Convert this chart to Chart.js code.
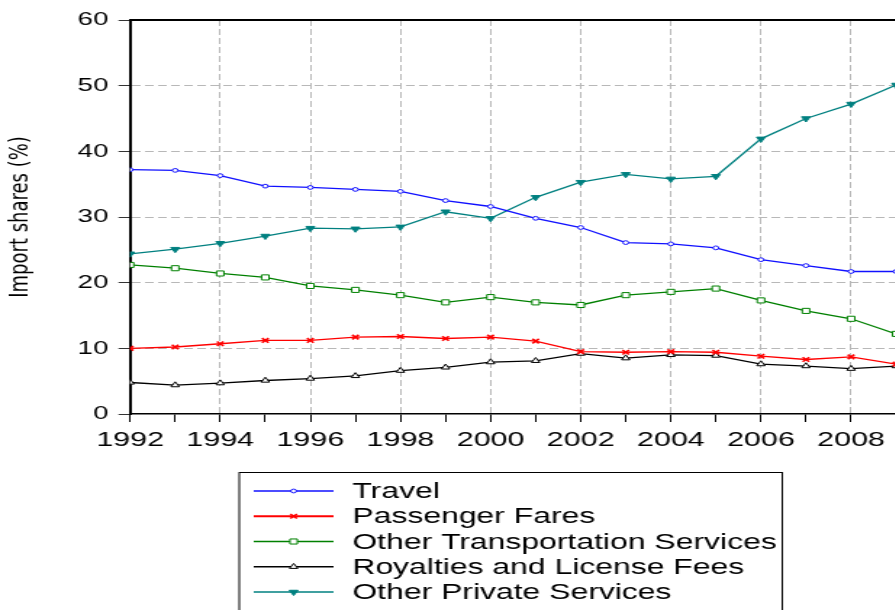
<!DOCTYPE html>
<html>
<head>
<meta charset="utf-8">
<style>
html, body { margin: 0; padding: 0; background: #fff; overflow: hidden; }
#wrap { width: 624px; height: 610px; transform: scaleX(1.45); transform-origin: 0 0; }
</style>
<script src="https://cdn.jsdelivr.net/npm/chart.js@4.4.1/dist/chart.umd.min.js"></script>
</head>
<body>
<div id="wrap"><canvas id="myChart" width="624" height="610" style="width:624px;height:610px"></canvas></div>
<script>
let years = [1992, 1993, 1994, 1995, 1996, 1997, 1998, 1999, 2000, 2001, 2002, 2003, 2004, 2005, 2006, 2007, 2008, 2009];
let travel = [37.2, 37.1, 36.3, 34.7, 34.5, 34.2, 33.9, 32.5, 31.6, 29.8, 28.4, 26.1, 25.9, 25.3, 23.5, 22.6, 21.7, 21.7];
let passengerFares = [10.0, 10.2, 10.7, 11.2, 11.2, 11.7, 11.8, 11.5, 11.7, 11.1, 9.5, 9.4, 9.5, 9.4, 8.8, 8.3, 8.7, 7.6];
let otherTransport = [22.7, 22.2, 21.4, 20.8, 19.5, 18.9, 18.1, 17.0, 17.8, 17.0, 16.6, 18.1, 18.6, 19.1, 17.3, 15.7, 14.5, 12.2];
let royalties = [4.8, 4.4, 4.7, 5.1, 5.4, 5.8, 6.6, 7.1, 7.9, 8.1, 9.2, 8.5, 9.0, 8.9, 7.6, 7.3, 6.9, 7.3];
let otherPrivate = [24.4, 25.1, 26.0, 27.1, 28.3, 28.2, 28.5, 30.8, 29.8, 33.0, 35.3, 36.5, 35.8, 36.2, 41.9, 45.0, 47.2, 50.1];

let seriesNames = ['Travel', 'Passenger Fares', 'Other Transportation Services', 'Royalties and License Fees', 'Other Private Services'];
let seriesColors = ['#1010ff', '#ff0000', '#008000', '#000000', '#008080'];

const FONT = "'Liberation Sans', Arial, sans-serif";

function pts(arr) {
    return years.map((yr, i) => ({ x: yr, y: arr[i] }));
}

function line(idx, arr, style) {
    return Object.assign({
        label: seriesNames[idx],
        data: pts(arr),
        borderColor: seriesColors[idx],
        pointBorderColor: seriesColors[idx],
        pointBackgroundColor: '#fff',
        borderWidth: 1.3,
        pointBorderWidth: 1,
        pointHoverRadius: 0,
        tension: 0
    }, style);
}

// top frame line + custom legend box
const frameAndLegend = {
    id: 'frameAndLegend',
    afterDraw(chart) {
        const ctx = chart.ctx;
        const a = chart.chartArea;
        ctx.save();
        ctx.strokeStyle = '#000';
        ctx.lineWidth = 2;
        ctx.beginPath();
        ctx.moveTo(a.left, a.top);
        ctx.lineTo(chart.width, a.top);
        ctx.stroke();

        // legend box
        ctx.lineWidth = 1;
        ctx.strokeRect(165, 472.5, 374.5, 200);

        chart.data.datasets.forEach((ds, i) => {
            const y = 491 + i * 25.25;
            ctx.strokeStyle = ds.borderColor;
            ctx.lineWidth = i === 1 ? 2 : 1.3;
            ctx.beginPath();
            ctx.moveTo(175, y);
            ctx.lineTo(230, y);
            ctx.stroke();
            ctx.fillStyle = ds.pointBackgroundColor;
            ctx.strokeStyle = ds.pointBorderColor;
            ctx.lineWidth = ds.pointBorderWidth;
            if (Chart.helpers && Chart.helpers.drawPoint) {
                Chart.helpers.drawPoint(ctx, {
                    pointStyle: ds.pointStyle,
                    rotation: ds.pointRotation || 0,
                    radius: ds.pointRadius,
                    borderWidth: ds.pointBorderWidth
                }, 202.5, y);
            }
            ctx.fillStyle = '#000';
            ctx.font = '22px ' + FONT;
            ctx.textBaseline = 'middle';
            ctx.textAlign = 'left';
            ctx.fillText(ds.label, 243, y + 1);
        });
        ctx.restore();
    }
};

let mychart = document.getElementById('myChart').getContext('2d');

let chart = new Chart(mychart, {
    type: 'line',
    data: {
        datasets: [
            line(0, travel, { pointStyle: 'circle', pointRadius: 1.9 }),
            line(1, passengerFares, { pointStyle: 'crossRot', pointRadius: 3.2, pointBorderWidth: 1.6 }),
            line(2, otherTransport, { pointStyle: 'rect', pointRadius: 3.6 }),
            line(3, royalties, { pointStyle: 'triangle', pointRadius: 3.3 }),
            line(4, otherPrivate, { pointStyle: 'triangle', pointRotation: 180, pointRadius: 3.5, pointBackgroundColor: '#008080' })
        ]
    },
    options: {
        responsive: false,
        animation: false,
        layout: { padding: { top: 20, right: 4, bottom: 146, left: 0 } },
        plugins: {
            legend: { display: false },
            tooltip: { enabled: false }
        },
        scales: {
            x: {
                type: 'linear',
                min: 1992,
                max: 2009,
                afterBuildTicks: s => { s.ticks = years.map(v => ({ value: v })); },
                afterFit: s => { s.height = 50; },
                ticks: {
                    autoSkip: false,
                    maxRotation: 0,
                    padding: 6,
                    color: '#000',
                    font: { family: FONT, size: 21 },
                    callback: v => (v % 2 === 0 ? String(v) : '')
                },
                grid: {
                    color: c => (c.tick && c.tick.value % 2 === 0 && c.tick.value !== 1992) ? '#b8b8b8' : 'rgba(0,0,0,0)',
                    tickColor: '#000',
                    tickLength: 8,
                    lineWidth: 1
                },
                border: { color: '#000', width: 1.5, dash: [6, 3] }
            },
            y: {
                min: 0,
                max: 60,
                ticks: {
                    stepSize: 10,
                    padding: 7,
                    color: '#000',
                    font: { family: FONT, size: 19 }
                },
                grid: {
                    color: c => (c.tick && (c.tick.value === 0 || c.tick.value === 60)) ? 'rgba(0,0,0,0)' : '#b8b8b8',
                    tickColor: '#333',
                    tickLength: 8,
                    lineWidth: 1
                },
                border: { color: '#000', width: 2, dash: [6, 3] },
                title: {
                    display: true,
                    text: 'Import shares (%)',
                    color: '#000',
                    font: { family: "'DejaVu Sans', sans-serif", size: 18 },
                    padding: { top: 4, bottom: 21 }
                }
            }
        }
    },
    plugins: [frameAndLegend]
});
</script>
</body>
</html>
